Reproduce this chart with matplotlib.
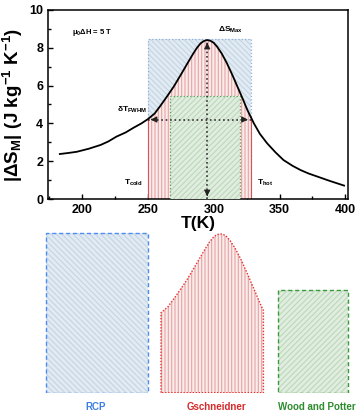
import numpy as np
import matplotlib
matplotlib.use("Agg")
import matplotlib.pyplot as plt
from matplotlib.patches import Rectangle
from matplotlib.ticker import MultipleLocator

plt.rcParams['font.family'] = ['Liberation Sans', 'DejaVu Sans']
plt.rcParams['font.weight'] = 'bold'
plt.rcParams['axes.labelweight'] = 'bold'
plt.rcParams['mathtext.fontset'] = 'custom'
plt.rcParams['mathtext.rm'] = 'Liberation Sans:bold'
plt.rcParams['mathtext.it'] = 'Liberation Sans:bold'
plt.rcParams['mathtext.bf'] = 'Liberation Sans:bold'
plt.rcParams['hatch.linewidth'] = 0.8

# ---- data ----
T = [183, 190, 196, 205, 214, 220, 226, 233, 239, 245, 250, 255, 259, 264, 269.5, 275,
     280, 284, 287, 290, 292.5, 295, 297.5, 300, 302.5, 306, 310, 314, 318, 322,
     325.5, 330.5, 335, 340.5, 347, 353, 360, 366, 372, 379, 388, 399]
S = [2.38, 2.44, 2.50, 2.66, 2.86, 3.05, 3.30, 3.52, 3.77, 4.00, 4.23, 4.52, 4.89, 5.38,
     5.94, 6.58, 7.18, 7.65, 7.98, 8.24, 8.36, 8.41, 8.37, 8.26, 8.06, 7.70, 7.18, 6.58,
     5.94, 5.30, 4.71, 4.00, 3.45, 2.95, 2.46, 2.06, 1.75, 1.53, 1.35, 1.18, 0.96, 0.71]
T_cold, T_hot = 250, 328
rcp_top = 8.45
wp_left, wp_right, wp_top = 266.5, 320, 5.43
x_ticks = [200, 250, 300, 350, 400]
y_ticks = [0, 2, 4, 6, 8, 10]
labels = ["RCP", "Gschneidner", "Wood and Potter"]
label_colors = ["#3d7fe0", "#d42a2a", "#2e8b2e"]

T = np.array(T); S = np.array(S)
S_max = S.max(); T_peak = T[np.argmax(S)]
half = S_max / 2

fig = plt.figure(figsize=(3.58, 4.11), dpi=100)
W, H = 358, 411
ax = fig.add_axes([48 / W, (H - 199) / H, 300 / W, 189 / H])

blue_fc, blue_hc, blue_ec = "#e2eaf2", "#c3d5e6", "#8fb0dc"
red_fc, red_hc = "#fbecec", "#e6a3a3"
green_fc, green_hc, green_ec = "#e0eddf", "#bcd8bb", "#5f9f5f"

# RCP rectangle
ax.add_patch(Rectangle((T_cold, 0), T_hot - T_cold, rcp_top, facecolor=blue_fc,
                       edgecolor=blue_hc, hatch="\\\\\\\\\\\\", lw=0, zorder=1))
ax.add_patch(Rectangle((T_cold, 0), T_hot - T_cold, rcp_top, fill=False,
                       edgecolor=blue_ec, ls=":", lw=0.9, zorder=1.1))
# Gschneidner area
Tg = np.linspace(T_cold, T_hot, 300)
Sg = np.interp(Tg, T, S)
ax.fill_between(Tg, 0, Sg, facecolor=red_fc, edgecolor=red_hc, hatch="|||||",
                lw=0, zorder=2)
ax.vlines([T_cold, T_hot], 0, [Sg[0], Sg[-1]], colors="#e05050", lw=0.8, zorder=2.1)
# Wood and Potter
ax.add_patch(Rectangle((wp_left, 0), wp_right - wp_left, wp_top, facecolor=green_fc,
                       edgecolor=green_hc, hatch="//////", lw=0, zorder=3))
ax.add_patch(Rectangle((wp_left, 0), wp_right - wp_left, wp_top, fill=False,
                       edgecolor=green_ec, ls=":", lw=0.9, zorder=3.1))

# curve
ax.plot(T, S, color="black", lw=1.3, zorder=5)

# arrows
ax.plot([T_peak, T_peak], [0, S_max], color="#333333", ls=":", lw=1.2, zorder=4)
ax.plot([T_cold, T_hot], [half, half], color="#333333", ls=":", lw=1.2, zorder=4)
ap = dict(arrowstyle="-|>,head_length=0.35,head_width=0.18", color="#222222", lw=0.8)
ax.annotate("", xy=(T_peak, S_max), xytext=(T_peak, S_max - 0.4), arrowprops=ap, zorder=6)
ax.annotate("", xy=(T_peak, 0), xytext=(T_peak, 0.4), arrowprops=ap, zorder=6)
ax.annotate("", xy=(T_cold, half), xytext=(T_cold + 6, half), arrowprops=ap, zorder=6)
ax.annotate("", xy=(T_hot, half), xytext=(T_hot - 6, half), arrowprops=ap, zorder=6)

# texts
ax.text(192, 8.8, r"$\mu_0\Delta$H = 5 T", fontsize=5.5, ha="left", va="center")
ax.text(303.5, 8.95, r"$\Delta S_{Max}$", fontsize=6, ha="left", va="center")
ax.text(249, 4.7, r"$\delta T_{FWHM}$", fontsize=6, ha="right", va="center")
ax.text(246, 0.85, r"$T_{cold}$", fontsize=6, ha="right", va="center")
ax.text(332.5, 0.85, r"$T_{hot}$", fontsize=6, ha="left", va="center")

ax.set_xlim(174, 402)
ax.set_ylim(0, 10)
ax.set_xticks(x_ticks)
ax.set_yticks(y_ticks)
ax.xaxis.set_minor_locator(MultipleLocator(25))
ax.yaxis.set_minor_locator(MultipleLocator(1))
ax.tick_params(which="both", direction="in", labelsize=9, width=1)
ax.tick_params(which="major", length=3.5)
ax.tick_params(which="minor", length=2)
for sp in ax.spines.values():
    sp.set_linewidth(1.1)
ax.set_ylabel(r"$|\Delta S_M|$ (J kg$^{-1}$ K$^{-1}$)", fontsize=13.5, labelpad=3)
ax.set_xlabel("T(K)", fontsize=12.5, labelpad=0)

# bottom panel
pxk = 1.313
pxs = 18.9
y0 = 392.7
ax2 = fig.add_axes([0, (H - y0) / H, 1, (y0 - 215) / H])
ax2.set_xlim(0, W / pxk)
ax2.set_ylim(0, (y0 - 215) / pxs)
ax2.axis("off")
off_rcp = 46 / pxk - T_cold
off_gs = 161 / pxk - T_cold
off_wp = 277.7 / pxk - wp_left

ax2.add_patch(Rectangle((T_cold + off_rcp, 0), T_hot - T_cold, rcp_top, facecolor=blue_fc,
                        edgecolor=blue_hc, hatch="\\\\\\\\\\\\", lw=0))
ax2.add_patch(Rectangle((T_cold + off_rcp, 0), T_hot - T_cold, rcp_top, fill=False,
                        edgecolor="#4d8cf0", ls=(0, (3, 2)), lw=1.0))
ax2.fill_between(Tg + off_gs, 0, Sg, facecolor=red_fc, edgecolor=red_hc, hatch="|||||", lw=0)
gx = np.concatenate([[Tg[0]], Tg, [Tg[-1], Tg[0]]]) + off_gs
gy = np.concatenate([[0], Sg, [0, 0]])
ax2.plot(gx, gy, color="#e63030", ls=(0, (1, 1.2)), lw=1.0)
ax2.add_patch(Rectangle((wp_left + off_wp, 0), wp_right - wp_left, wp_top, facecolor=green_fc,
                        edgecolor=green_hc, hatch="//////", lw=0))
ax2.add_patch(Rectangle((wp_left + off_wp, 0), wp_right - wp_left, wp_top, fill=False,
                        edgecolor="#3c9a3c", ls=(0, (3, 2)), lw=1.0))

label_x = [96 / pxk, 216 / pxk, 316.7 / pxk]
for lx, lab, c in zip(label_x, labels, label_colors):
    ax2.text(lx, -(407 - y0) / pxs, lab, color=c, fontsize=7, ha="center", va="center",
             clip_on=False)

fig.savefig("out.png", dpi=100)
